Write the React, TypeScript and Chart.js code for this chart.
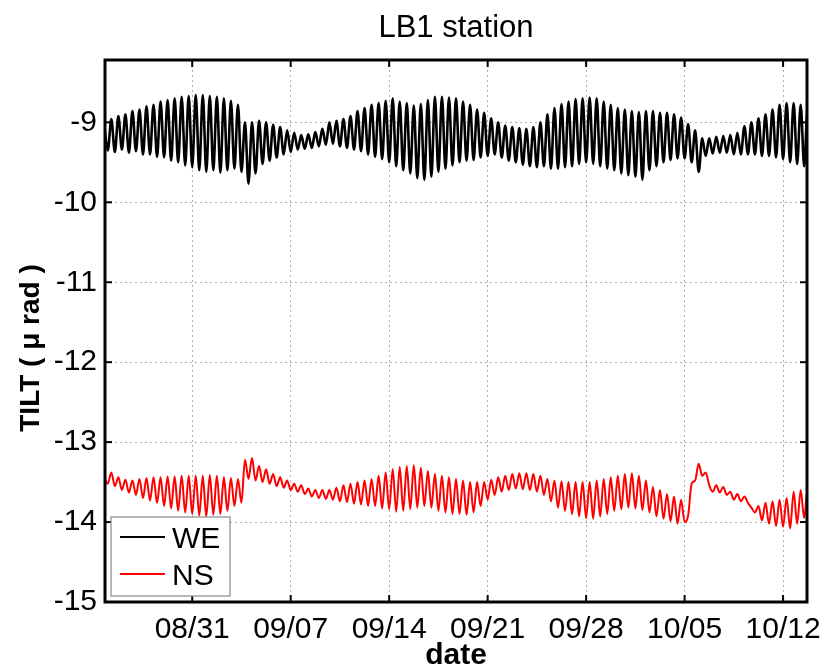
import React, { useEffect, useRef } from "react";
import { Chart, registerables } from "chart.js";

Chart.register(...registerables);

const TITLE = "LB1 station";
const X_LABEL = "date";
const Y_LABEL = "TILT ( μ rad )";
const SERIES_NAMES = ["WE", "NS"];
const SERIES_COLORS = ["#000000", "#ff0000"];

// x is measured in days from 08/31 00:00
const X_TICK_DAYS = [0, 7, 14, 21, 28, 35, 42];
const X_TICK_LABELS = ["08/31", "09/07", "09/14", "09/21", "09/28", "10/05", "10/12"];
const Y_TICKS = [-15, -14, -13, -12, -11, -10, -9];
const X_MIN = -6.2;
const X_MAX = 43.7;
const Y_MIN = -15;
const Y_MAX = -8.22;

// samples every 6 h (alternating tidal highs / lows), first at day -6.25
const T0 = -6.25;
const DT = 0.25;

const WE = [
  -9.05, -9.35, -8.96, -9.37,
  -8.92, -9.34, -8.9, -9.38,
  -8.86, -9.36, -8.84, -9.4,
  -8.8, -9.4, -8.78, -9.43,
  -8.74, -9.44, -8.72, -9.48,
  -8.7, -9.5, -8.68, -9.54,
  -8.67, -9.56, -8.66, -9.6,
  -8.66, -9.62, -8.67, -9.6,
  -8.68, -9.63, -8.7, -9.6,
  -8.73, -9.58, -8.78, -9.62,
  -9.0, -9.77, -9.0, -9.64,
  -8.98, -9.52, -9.0, -9.48,
  -9.03, -9.44, -9.06, -9.4,
  -9.1, -9.37, -9.13, -9.34,
  -9.16, -9.33, -9.15, -9.32,
  -9.12, -9.3, -9.08, -9.28,
  -9.0, -9.27, -8.98, -9.3,
  -8.96, -9.32, -8.92, -9.34,
  -8.86, -9.36, -8.82, -9.4,
  -8.78, -9.43, -8.76, -9.46,
  -8.73, -9.5, -8.7, -9.55,
  -8.74, -9.6, -8.76, -9.64,
  -8.79, -9.7, -8.77, -9.72,
  -8.72, -9.68, -8.68, -9.62,
  -8.68, -9.58, -8.69, -9.54,
  -8.7, -9.5, -8.74, -9.48,
  -8.78, -9.47, -8.84, -9.44,
  -8.88, -9.42, -8.95, -9.4,
  -9.0, -9.44, -9.04, -9.48,
  -9.06, -9.5, -9.07, -9.53,
  -9.08, -9.55, -9.06, -9.56,
  -9.0, -9.55, -8.9, -9.58,
  -8.82, -9.58, -8.77, -9.56,
  -8.74, -9.55, -8.71, -9.52,
  -8.7, -9.5, -8.69, -9.52,
  -8.7, -9.55, -8.74, -9.58,
  -8.78, -9.6, -8.82, -9.64,
  -8.84, -9.66, -8.86, -9.68,
  -8.87, -9.72, -8.86, -9.6,
  -8.86, -9.55, -8.88, -9.5,
  -8.88, -9.47, -8.9, -9.45,
  -8.94, -9.45, -9.02, -9.5,
  -9.1, -9.62, -9.2, -9.42,
  -9.2, -9.39, -9.18, -9.38,
  -9.17, -9.38, -9.16, -9.4,
  -9.13, -9.4, -9.05, -9.4,
  -9.0, -9.4, -8.95, -9.42,
  -8.9, -9.42, -8.84, -9.44,
  -8.78, -9.46, -8.76, -9.5,
  -8.76, -9.52, -8.78, -9.55,
  -8.8, -9.6,
];

const NS = [
  -13.45, -13.52, -13.38, -13.55,
  -13.44, -13.6, -13.47, -13.63,
  -13.48, -13.66, -13.46, -13.7,
  -13.45, -13.73, -13.44, -13.76,
  -13.44, -13.8, -13.43, -13.83,
  -13.43, -13.86, -13.42, -13.88,
  -13.42, -13.9, -13.42, -13.92,
  -13.42, -13.93, -13.41, -13.91,
  -13.42, -13.9, -13.44, -13.86,
  -13.45, -13.8, -13.46, -13.76,
  -13.22, -13.46, -13.2, -13.48,
  -13.3, -13.5, -13.34, -13.52,
  -13.4, -13.55, -13.44, -13.57,
  -13.48, -13.6, -13.52, -13.62,
  -13.54, -13.65, -13.58, -13.68,
  -13.6, -13.7, -13.6, -13.71,
  -13.6, -13.72, -13.57, -13.74,
  -13.54, -13.75, -13.52, -13.77,
  -13.5, -13.78, -13.48, -13.8,
  -13.46, -13.8, -13.42, -13.83,
  -13.38, -13.84, -13.34, -13.87,
  -13.31, -13.86, -13.3, -13.84,
  -13.29, -13.82, -13.32, -13.8,
  -13.36, -13.82, -13.4, -13.86,
  -13.42, -13.88, -13.44, -13.9,
  -13.46, -13.9, -13.48, -13.91,
  -13.5, -13.88, -13.5, -13.8,
  -13.5, -13.72, -13.47, -13.66,
  -13.44, -13.62, -13.42, -13.6,
  -13.4, -13.58, -13.39, -13.59,
  -13.39, -13.6, -13.4, -13.62,
  -13.42, -13.66, -13.46, -13.74,
  -13.48, -13.82, -13.49, -13.86,
  -13.5, -13.9, -13.5, -13.93,
  -13.5, -13.95, -13.5, -13.96,
  -13.48, -13.93, -13.46, -13.9,
  -13.44, -13.86, -13.42, -13.84,
  -13.4, -13.82, -13.39, -13.83,
  -13.42, -13.85, -13.48, -13.88,
  -13.56, -13.93, -13.6, -13.96,
  -13.65, -13.99, -13.68, -14.02,
  -13.72, -14.0, -13.92, -13.52,
  -13.48, -13.27, -13.42, -13.38,
  -13.54, -13.62, -13.54, -13.63,
  -13.56, -13.66, -13.62, -13.72,
  -13.65, -13.74, -13.68, -13.76,
  -13.82, -13.88, -13.8, -13.98,
  -13.76, -14.02, -13.74, -14.05,
  -13.72, -14.06, -13.7, -14.08,
  -13.62, -14.02, -13.6, -13.95,
  -13.58, -13.9,
];

const FONT = "'Liberation Sans', Arial, Helvetica, sans-serif";

const decorPlugin = {
  id: "decor",
  afterDatasetsDraw(chart: any) {
    const { ctx, chartArea: a, scales } = chart;
    const xs = scales.x;
    const ys = scales.y;
    ctx.save();
    const line = (x1: number, y1: number, x2: number, y2: number) => {
      ctx.beginPath();
      ctx.moveTo(x1, y1);
      ctx.lineTo(x2, y2);
      ctx.stroke();
    };
    // inward tick marks
    ctx.strokeStyle = "#000";
    ctx.lineWidth = 2;
    X_TICK_DAYS.forEach((d) => {
      const px = xs.getPixelForValue(d);
      line(px, a.bottom, px, a.bottom - 7);
      line(px, a.top, px, a.top + 7);
    });
    Y_TICKS.forEach((v) => {
      const py = ys.getPixelForValue(v);
      line(a.left, py, a.left + 7, py);
      line(a.right, py, a.right - 7, py);
    });
    // axes box
    ctx.lineWidth = 3;
    ctx.strokeRect(a.left, a.top, a.right - a.left, a.bottom - a.top);

    // legend
    const lx = a.left + 6;
    const ly = a.bottom - 85;
    const lw = 119;
    const lh = 79;
    ctx.fillStyle = "#fff";
    ctx.fillRect(lx, ly, lw, lh);
    ctx.strokeStyle = "#8a8a8a";
    ctx.lineWidth = 1.2;
    ctx.strokeRect(lx, ly, lw, lh);
    ctx.font = `30px ${FONT}`;
    ctx.textAlign = "left";
    ctx.textBaseline = "alphabetic";
    chart.data.datasets.forEach((ds: any, i: number) => {
      const cy = ly + 20 + i * 37;
      ctx.strokeStyle = ds.borderColor;
      ctx.lineWidth = 2;
      line(lx + 9, cy, lx + 54, cy);
      ctx.fillStyle = "#000";
      ctx.fillText(ds.label, lx + 61, cy + 11);
    });

    // title and axis labels
    const cx = (a.left + a.right) / 2;
    ctx.fillStyle = "#000";
    ctx.textAlign = "center";
    ctx.font = `31px ${FONT}`;
    ctx.fillText(TITLE, cx, 37);
    ctx.font = `bold 30px ${FONT}`;
    ctx.fillText(X_LABEL, cx, 664);
    ctx.save();
    ctx.translate(31, 348);
    ctx.rotate(-Math.PI / 2);
    ctx.textBaseline = "middle";
    ctx.font = `bold 28px ${FONT}`;
    ctx.fillText(Y_LABEL, 0, 0);
    ctx.restore();
    ctx.restore();
  },
};

export default function App() {
  const canvasRef = useRef<HTMLCanvasElement | null>(null);

  useEffect(() => {
    const canvas = canvasRef.current;
    if (!canvas) return;
    const toPoints = (arr: number[]) => arr.map((v, i) => ({ x: T0 + i * DT, y: v }));
    const chart = new Chart(canvas, {
      type: "line",
      data: {
        datasets: [
          {
            label: SERIES_NAMES[0],
            data: toPoints(WE),
            borderColor: SERIES_COLORS[0],
            borderWidth: 2.6,
            pointRadius: 0,
            cubicInterpolationMode: "monotone",
            fill: false,
          },
          {
            label: SERIES_NAMES[1],
            data: toPoints(NS),
            borderColor: SERIES_COLORS[1],
            borderWidth: 2,
            pointRadius: 0,
            cubicInterpolationMode: "monotone",
            fill: false,
          },
        ],
      },
      options: {
        responsive: false,
        animation: false,
        devicePixelRatio: 1,
        layout: { padding: { left: 0, top: 60, right: 18, bottom: 0 } },
        plugins: {
          legend: { display: false },
          title: { display: false },
          tooltip: { enabled: false },
        },
        scales: {
          x: {
            type: "linear",
            min: X_MIN,
            max: X_MAX,
            afterBuildTicks: (s: any) => {
              s.ticks = X_TICK_DAYS.map((v) => ({ value: v }));
            },
            afterFit: (s: any) => {
              s.height = 68;
              s.paddingLeft = 0;
              s.paddingRight = 0;
            },
            ticks: {
              autoSkip: false,
              maxRotation: 0,
              padding: 10,
              color: "#000",
              font: { size: 30, family: FONT },
              callback: (_v: any, i: number) => X_TICK_LABELS[i],
            },
            grid: { color: "#b0b0b0", lineWidth: 1, drawTicks: false },
            border: { display: false, dash: [2, 3] },
          },
          y: {
            type: "linear",
            min: Y_MIN,
            max: Y_MAX,
            afterBuildTicks: (s: any) => {
              s.ticks = Y_TICKS.map((v) => ({ value: v }));
            },
            afterFit: (s: any) => {
              s.width = 105;
              s.paddingTop = 0;
              s.paddingBottom = 0;
            },
            ticks: {
              autoSkip: false,
              padding: 8,
              color: "#000",
              font: { size: 30, family: FONT },
              callback: (v: any) => String(v),
            },
            grid: { color: "#b0b0b0", lineWidth: 1, drawTicks: false },
            border: { display: false, dash: [2, 3] },
          },
        },
      },
      plugins: [decorPlugin],
    } as any);
    return () => chart.destroy();
  }, []);

  return (
    <div style={{ position: "absolute", left: 0, top: 0, width: 825, height: 670, background: "#fff" }}>
      <canvas ref={canvasRef} width={825} height={670} style={{ width: 825, height: 670, display: "block" }} />
    </div>
  );
}
